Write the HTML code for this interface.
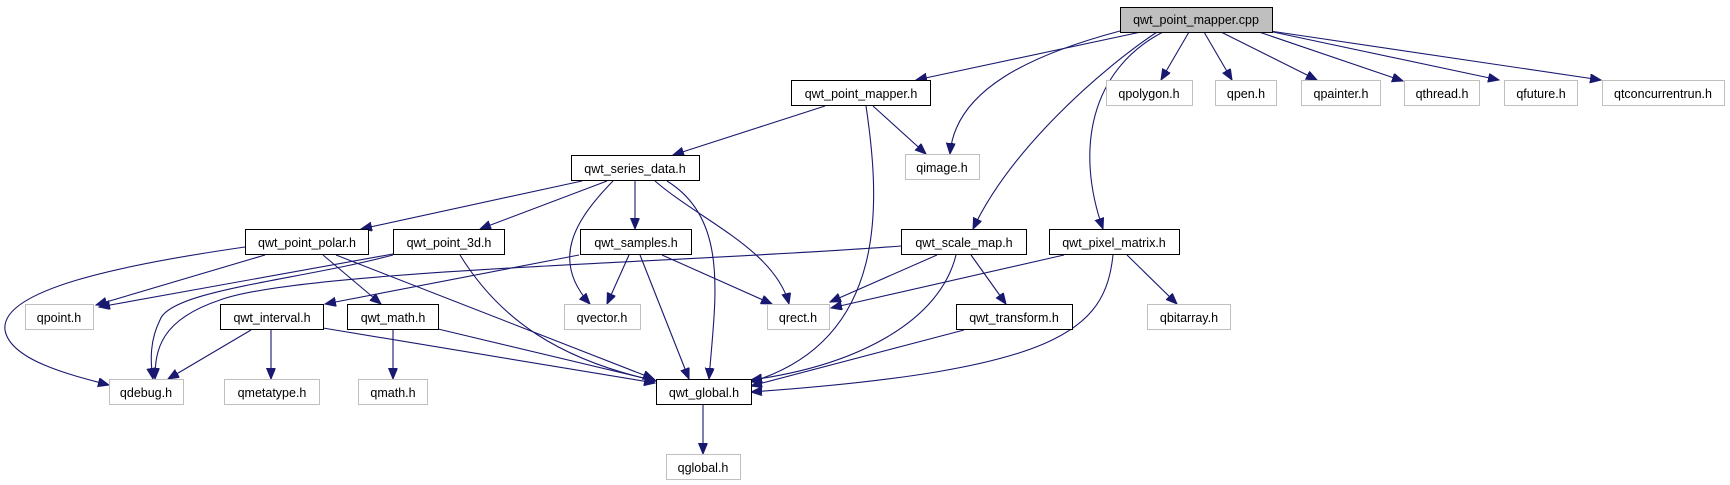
<!DOCTYPE html>
<html><head><meta charset="utf-8"><style>
html,body{margin:0;padding:0;background:#fff;}
svg{display:block;}
text{font-family:"Liberation Sans",Helvetica,Arial,sans-serif;font-size:12.5px;fill:#000;text-anchor:middle;}
.e{fill:none;stroke:#191970;stroke-width:1.1;}
</style></head><body>
<svg width="1730" height="485" viewBox="0 0 1730 485" xmlns="http://www.w3.org/2000/svg">
<defs>
<marker id="a" markerUnits="userSpaceOnUse" markerWidth="12" markerHeight="10" refX="11" refY="4.5" orient="auto">
<path d="M0,0 L11,4.5 L0,9 Z" fill="#191970" stroke="#191970"/>
</marker>
</defs>
<g>
<!-- root edges -->
<path class="e" marker-end="url(#a)" d="M1141,32 L916,80"/>
<path class="e" marker-end="url(#a)" d="M1120,31 C1030,55 955,90 950,154"/>
<path class="e" marker-end="url(#a)" d="M1157,32 C1100,70 1010,150 973,229"/>
<path class="e" marker-end="url(#a)" d="M1163,32 C1090,70 1075,150 1103,229"/>
<path class="e" marker-end="url(#a)" d="M1189,32 L1161,80"/>
<path class="e" marker-end="url(#a)" d="M1204,32 L1232,80"/>
<path class="e" marker-end="url(#a)" d="M1221,32 L1317,80"/>
<path class="e" marker-end="url(#a)" d="M1259,32 L1403,81"/>
<path class="e" marker-end="url(#a)" d="M1273,32 L1499,80"/>
<path class="e" marker-end="url(#a)" d="M1270,31 L1601,80"/>
<!-- mapper.h -->
<path class="e" marker-end="url(#a)" d="M825,106 L673,155"/>
<path class="e" marker-end="url(#a)" d="M873,106 L926,154"/>
<path class="e" marker-end="url(#a)" d="M866,106 C880,200 890,340 751,382"/>
<!-- series_data -->
<path class="e" marker-end="url(#a)" d="M582,181 L361,229"/>
<path class="e" marker-end="url(#a)" d="M607,181 L480,229"/>
<path class="e" marker-end="url(#a)" d="M613,181 C575,220 550,260 590,304"/>
<path class="e" marker-end="url(#a)" d="M635,181 L635,229"/>
<path class="e" marker-end="url(#a)" d="M655,181 C700,220 775,250 789,304"/>
<path class="e" marker-end="url(#a)" d="M667,181 C730,220 715,300 709,379"/>
<!-- point_polar -->
<path class="e" marker-end="url(#a)" d="M265,255 L96,305"/>
<path class="e" marker-end="url(#a)" d="M245,247 C120,265 0,290 5,330 C10,360 70,375 109,385"/>
<path class="e" marker-end="url(#a)" d="M323,255 L381,304"/>
<path class="e" marker-end="url(#a)" d="M336,255 L654,379"/>
<!-- point_3d -->
<path class="e" marker-end="url(#a)" d="M393,254 L99,307"/>
<path class="e" marker-end="url(#a)" d="M393,255 C300,280 170,290 160,320 C150,340 150,360 153,379"/>
<path class="e" marker-end="url(#a)" d="M460,255 C500,320 560,360 656,381"/>
<!-- samples -->
<path class="e" marker-end="url(#a)" d="M579,255 L325,304"/>
<path class="e" marker-end="url(#a)" d="M629,255 L607,304"/>
<path class="e" marker-end="url(#a)" d="M640,255 L689,379"/>
<path class="e" marker-end="url(#a)" d="M662,255 L772,304"/>
<!-- scale_map -->
<path class="e" marker-end="url(#a)" d="M901,246 C700,262 300,270 220,300 C160,320 155,350 155,379"/>
<path class="e" marker-end="url(#a)" d="M937,255 L830,302"/>
<path class="e" marker-end="url(#a)" d="M956,255 C940,320 860,365 751,380"/>
<path class="e" marker-end="url(#a)" d="M971,255 L1006,304"/>
<!-- pixel_matrix -->
<path class="e" marker-end="url(#a)" d="M1064,255 L831,308"/>
<path class="e" marker-end="url(#a)" d="M1113,255 C1105,330 1060,370 751,392"/>
<path class="e" marker-end="url(#a)" d="M1127,255 L1177,304"/>
<!-- transform -->
<path class="e" marker-end="url(#a)" d="M964,330 L751,386"/>
<!-- interval -->
<path class="e" marker-end="url(#a)" d="M251,330 L168,379"/>
<path class="e" marker-end="url(#a)" d="M271,330 L271,379"/>
<path class="e" marker-end="url(#a)" d="M323,328 L655,383"/>
<!-- math -->
<path class="e" marker-end="url(#a)" d="M393,330 L393,379"/>
<path class="e" marker-end="url(#a)" d="M438,329 L656,381"/>
<!-- global -->
<path class="e" marker-end="url(#a)" d="M703,404 L703,454"/>
</g>
<g stroke-width="1">
<!-- root -->
<rect x="1120.5" y="7.5" width="152" height="25" fill="#bfbfbf" stroke="#000"/>
<text x="1196" y="24">qwt_point_mapper.cpp</text>
<!-- black-bordered -->
<g fill="#fff" stroke="#000">
<rect x="791.5" y="80.5" width="139" height="25"/>
<rect x="571.5" y="155.5" width="128" height="25"/>
<rect x="245.5" y="229.5" width="123" height="25"/>
<rect x="393.5" y="229.5" width="111" height="25"/>
<rect x="580.5" y="229.5" width="111" height="25"/>
<rect x="901.5" y="229.5" width="125" height="25"/>
<rect x="1049.5" y="229.5" width="130" height="25"/>
<rect x="220.5" y="304.5" width="103" height="25"/>
<rect x="347.5" y="304.5" width="91" height="25"/>
<rect x="956.5" y="304.5" width="116" height="25"/>
<rect x="656.5" y="379.5" width="95" height="25"/>
</g>
<g fill="#fff" stroke="#bfbfbf">
<rect x="905.5" y="154.5" width="74" height="25"/>
<rect x="1106.5" y="80.5" width="86" height="25"/>
<rect x="1215.5" y="80.5" width="61" height="25"/>
<rect x="1301.5" y="80.5" width="79" height="25"/>
<rect x="1404.5" y="80.5" width="75" height="25"/>
<rect x="1504.5" y="80.5" width="73" height="25"/>
<rect x="1602.5" y="80.5" width="122" height="25"/>
<rect x="25.5" y="304.5" width="68" height="25"/>
<rect x="564.5" y="304.5" width="76" height="25"/>
<rect x="767.5" y="304.5" width="62" height="25"/>
<rect x="1147.5" y="304.5" width="83" height="25"/>
<rect x="109.5" y="379.5" width="74" height="25"/>
<rect x="224.5" y="379.5" width="95" height="25"/>
<rect x="358.5" y="379.5" width="69" height="25"/>
<rect x="666.5" y="454.5" width="74" height="25"/>
</g>
<text x="861" y="98">qwt_point_mapper.h</text>
<text x="635" y="173">qwt_series_data.h</text>
<text x="307" y="247">qwt_point_polar.h</text>
<text x="449" y="247">qwt_point_3d.h</text>
<text x="636" y="247">qwt_samples.h</text>
<text x="964" y="247">qwt_scale_map.h</text>
<text x="1114" y="247">qwt_pixel_matrix.h</text>
<text x="272" y="322">qwt_interval.h</text>
<text x="393" y="322">qwt_math.h</text>
<text x="1014" y="322">qwt_transform.h</text>
<text x="704" y="397">qwt_global.h</text>
<text x="942" y="172">qimage.h</text>
<text x="1149" y="98">qpolygon.h</text>
<text x="1246" y="98">qpen.h</text>
<text x="1341" y="98">qpainter.h</text>
<text x="1442" y="98">qthread.h</text>
<text x="1541" y="98">qfuture.h</text>
<text x="1663" y="98">qtconcurrentrun.h</text>
<text x="59" y="322">qpoint.h</text>
<text x="602" y="322">qvector.h</text>
<text x="798" y="322">qrect.h</text>
<text x="1189" y="322">qbitarray.h</text>
<text x="146" y="397">qdebug.h</text>
<text x="272" y="397">qmetatype.h</text>
<text x="393" y="397">qmath.h</text>
<text x="703" y="472">qglobal.h</text>
</g>
</svg>
</body></html>
